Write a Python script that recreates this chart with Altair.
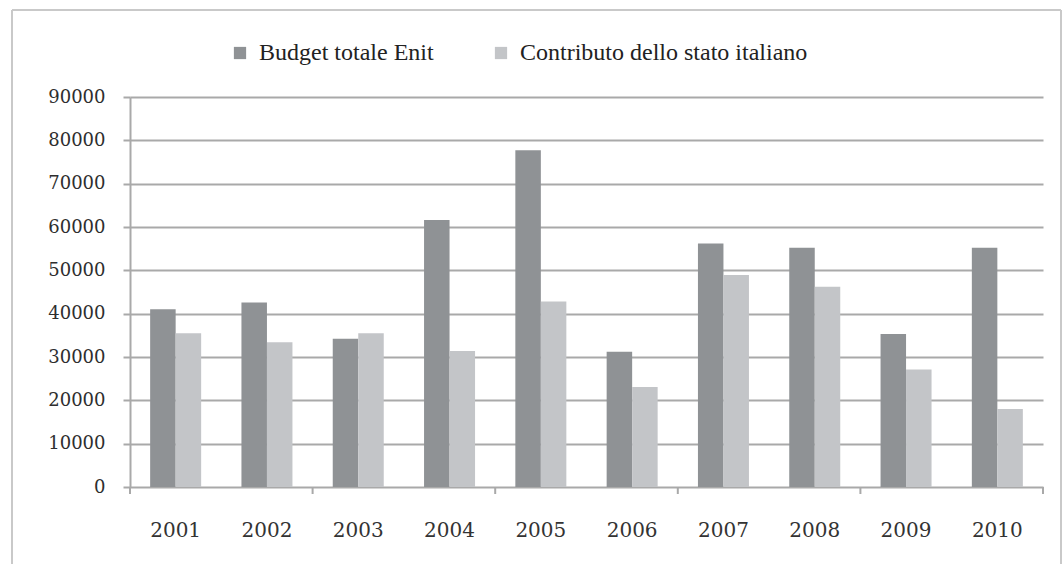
import altair as alt
import pandas as pd

years = ["2001", "2002", "2003", "2004", "2005", "2006", "2007", "2008", "2009", "2010"]
budget = [41000, 42600, 34200, 61600, 77700, 31200, 56200, 55200, 35300, 55200]
contributo = [35500, 33400, 35500, 31400, 42800, 23100, 48900, 46200, 27100, 18000]
series = ["Budget totale Enit", "Contributo dello stato italiano"]
colors = ["#8f9295", "#c3c5c8"]
y_ticks = [0, 10000, 20000, 30000, 40000, 50000, 60000, 70000, 80000, 90000]
tick_years = ["2001", "2003", "2005", "2007", "2009"]

rows = []
for i, yr in enumerate(years):
    rows.append({"year": yr, "series": series[0], "value": budget[i]})
    rows.append({"year": yr, "series": series[1], "value": contributo[i]})
df = pd.DataFrame(rows)

W, H = 913, 390
grid_color = "#a9a9a9"

x_enc = alt.X(
    "year:N",
    sort=years,
    scale=alt.Scale(domain=years, paddingInner=0, paddingOuter=0),
    axis=alt.Axis(
        title=None, labelAngle=0, ticks=False, domain=False,
        labelFont="DejaVu Serif", labelFontSize=20, labelColor="#333333",
        labelPadding=33,
    ),
)

bars = alt.Chart(df).mark_bar().encode(
    x=x_enc,
    xOffset=alt.XOffset("series:N", sort=series,
                        scale=alt.Scale(domain=series, paddingInner=0, paddingOuter=0.79)),
    y=alt.Y(
        "value:Q",
        scale=alt.Scale(domain=[0, 90000], nice=False),
        axis=alt.Axis(
            title=None, values=y_ticks, format="d",
            labelFont="DejaVu Serif", labelFontSize=18, labelColor="#2e2e2e",
            labelPadding=18, tickSize=7, tickColor=grid_color, tickWidth=2,
            domainColor=grid_color, domainWidth=2,
            gridColor=grid_color, gridWidth=2,
        ),
    ),
    color=alt.Color(
        "series:N", sort=series,
        scale=alt.Scale(domain=series, range=colors),
        legend=alt.Legend(
            title=None, orient="none", direction="horizontal",
            legendX=98, legendY=-56, padding=0,
            symbolType="square", symbolSize=150, symbolStrokeWidth=0,
            labelFont="Liberation Serif", labelFontSize=24, labelColor="#222222",
            labelOffset=7, columnPadding=55, labelLimit=500,
        ),
    ),
)

ticks_a = alt.Chart(pd.DataFrame({"year": tick_years})).mark_rule(
    color=grid_color, strokeWidth=2
).encode(
    x=alt.X("year:N", sort=years, bandPosition=0),
    y=alt.value(H), y2=alt.value(H + 7),
)
ticks_b = alt.Chart(pd.DataFrame({"year": ["2010"]})).mark_rule(
    color=grid_color, strokeWidth=2
).encode(
    x=alt.X("year:N", sort=years, bandPosition=1),
    y=alt.value(H), y2=alt.value(H + 7),
)

one = pd.DataFrame({"a": [0]})
frame_left = alt.Chart(one).mark_rule(color="#c9c9c9", strokeWidth=2).encode(
    x=alt.value(-118), y=alt.value(-87), y2=alt.value(480)
)
frame_top = alt.Chart(one).mark_rule(color="#c9c9c9", strokeWidth=2).encode(
    x=alt.value(-118), x2=alt.value(931), y=alt.value(-87)
)
frame_right = alt.Chart(one).mark_rule(color="#c9c9c9", strokeWidth=2).encode(
    x=alt.value(931), y=alt.value(-87), y2=alt.value(480)
)

chart = alt.layer(bars, ticks_a, ticks_b, frame_left, frame_top, frame_right).properties(
    width=W, height=H,
    autosize=alt.AutoSizeParams(type="none"),
    padding={"left": 130, "top": 97, "right": 20, "bottom": 77},
    background="white",
).configure_view(stroke=None)

chart.save("out.html", embed_options={"renderer": "svg", "actions": False})
